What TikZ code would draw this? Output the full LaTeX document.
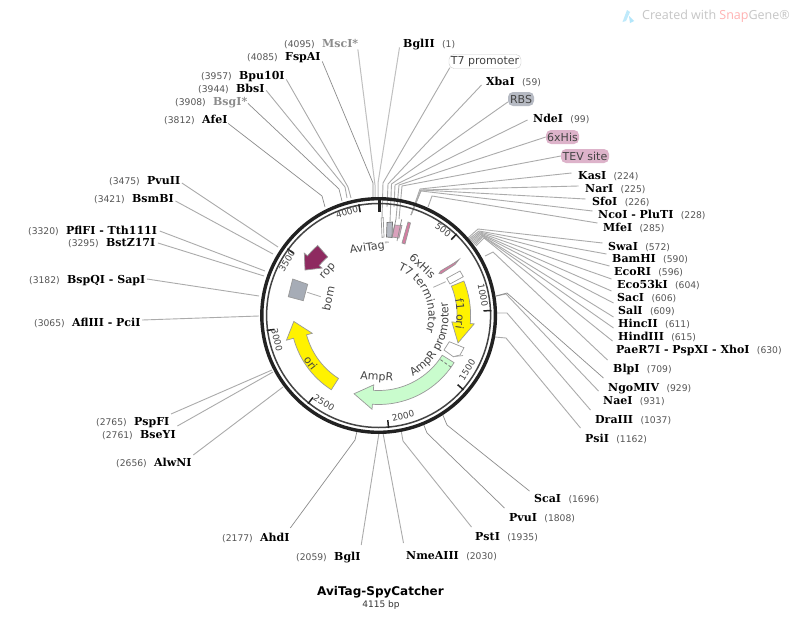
\documentclass[tikz,border=0pt]{standalone}
\usepackage{fontspec}
\setmainfont{DejaVu Sans}
\newfontfamily\enzf{DejaVu Serif}
\newfontfamily\markf{Open Sans}
\usetikzlibrary{decorations.text,calc}
\definecolor{leadc}{HTML}{ABABAB}
\definecolor{darkl}{HTML}{8C8C8C}
\definecolor{featc}{HTML}{444444}
\definecolor{numc}{HTML}{555555}
\definecolor{ringc}{HTML}{222222}
\definecolor{pinkf}{HTML}{DDB3CA}
\definecolor{greyf}{HTML}{B6BAC3}
\definecolor{bomf}{HTML}{A6ACB6}
\definecolor{ropf}{HTML}{8E2A60}
\definecolor{ampf}{HTML}{C9FCCD}
\def\CX{378.6}
\def\CY{315.5}
\newcommand\featf{\fontsize{11}{12}\selectfont\color{featc}}
\tikzset{
  enzname/.style={anchor=west,inner sep=1.5pt,text height=7.5pt,text depth=0pt,font=\fontsize{11}{12}\selectfont\enzf\bfseries,text=black},
  enzgrey/.style={enzname,text=gray!90},
  enznum/.style={inner sep=0pt,text height=7pt,text depth=0pt,font=\fontsize{9.2}{11}\selectfont,text=numc},
  lead/.style={draw=leadc,line width=0.9pt},
  leaddark/.style={draw=darkl,line width=0.7pt},
  leadpale/.style={draw=leadc!75,line width=1pt},
  featbox/.style={rounded corners=5pt,minimum height=14pt,inner sep=0pt,font=\fontsize{11}{12}\selectfont,text=featc},
  featlab/.style={font=\fontsize{11}{12}\selectfont,text=featc,inner sep=0pt},
  ticklab/.style={font=\fontsize{8.9}{10}\selectfont,text=featc,inner sep=0pt},
  shapefeat/.style={draw=gray!80,line width=0.7pt,line join=miter},
  ringtick/.style={draw=ringc,line width=1.5pt},
}
% enzyme with the number after the name
\newcommand\enzR[6][enzname]{%
  \node[#1] (#2) at ({#3-1.5},#4) {#5};
  \node[enznum,anchor=west] (#2-n) at ([xshift=5.5pt]#2.east) {(#6)};}
% enzyme with the number before the name
\newcommand\enzL[6][enzname]{%
  \node[#1] (#2) at ({#3-1.5},#4) {#5};
  \node[enznum,anchor=east] (#2-n) at ([xshift=-5.5pt]#2.west) {(#6)};}
% leader: node anchor + shift, elbow, end on the ring
\newcommand\ldr[9][lead]{%
  \coordinate (#2-e) at (#6,#7);
  \coordinate (#2-r) at (#8,#9);
  \draw[#1] ([shift={(#4,#5)}]#2.#3) -- (#2-e) -- (#2-r);}
% arc arrow: style,a1,a2,atip,r1,r2,rh1,rh2 ; rtip = next
\newcommand\featarrow[9]{%
  \draw[#1] plot[domain=#2:#3,samples=24] ({\CX+#6*sin(\x)},{\CY-#6*cos(\x)})
   -- ({\CX+#8*sin(#3)},{\CY-#8*cos(#3)})
   -- ({\CX+#9*sin(#4)},{\CY-#9*cos(#4)})
   -- ({\CX+#7*sin(#3)},{\CY-#7*cos(#3)})
   -- plot[domain=#3:#2,samples=24] ({\CX+#5*sin(\x)},{\CY-#5*cos(\x)}) -- cycle;}
% text along an arc
\newcommand\arctext[4]{%
  \path[decorate,decoration={text along path,text align=center,text={|\featf|#4}}]
    plot[domain=#1:#2,samples=60] ({\CX+#3*sin(\x)},{\CY-#3*cos(\x)});}
\newcommand\tick[1]{%
  \draw[ringtick] ({\CX+113*sin(#1)},{\CY-113*cos(#1)}) -- ({\CX+105*sin(#1)},{\CY-105*cos(#1)});}
\begin{document}
\begin{tikzpicture}[x=1pt,y=-1pt]
\useasboundingbox (0,0) rectangle (800,640);
\fill[white] (0,0) rectangle (800,640);

% watermark
\fill[cyan!25] (622.5,22)--(627,10)--(630,12)--(626,21)--cycle;
\fill[cyan!30] (629,16)--(634,21)--(630,23)--cycle;
\node[anchor=west,inner sep=0pt,font=\fontsize{12.5}{14}\selectfont\markf,text=gray!45] (wm) at (642,16) {Created with \textcolor{red!30}{Snap}Gene®};

% enzyme labels, right side
\enzR{bgl}{403}{44}{BglII}{1}
\enzR{xba}{486}{82}{XbaI}{59}
\enzR{nde}{533}{119}{NdeI}{99}
\enzR{kas}{578}{176}{KasI}{224}
\enzR{nar}{585}{189}{NarI}{225}
\enzR{sfo}{592}{202}{SfoI}{226}
\enzR{nco}{598}{215}{NcoI - PluTI}{228}
\enzR{mfe}{603}{228}{MfeI}{285}
\enzR{swa}{608}{247}{SwaI}{572}
\enzR{bam}{612}{259}{BamHI}{590}
\enzR{eco}{614}{272}{EcoRI}{596}
\enzR{ecok}{617}{285}{Eco53kI}{604}
\enzR{sac}{617}{298}{SacI}{606}
\enzR{sal}{618}{311}{SalI}{609}
\enzR{hinc}{618}{324}{HincII}{611}
\enzR{hind}{618}{337}{HindIII}{615}
\enzR{pae}{616}{350}{PaeR7I - PspXI - XhoI}{630}
\enzR{blp}{613}{369}{BlpI}{709}
\enzR{ngo}{608}{388}{NgoMIV}{929}
\enzR{nae}{603}{401}{NaeI}{931}
\enzR{dra}{595}{420}{DraIII}{1037}
\enzR{psi}{585}{439}{PsiI}{1162}
\enzR{sca}{534}{499}{ScaI}{1696}
\enzR{pvui}{509}{518}{PvuI}{1808}
\enzR{pst}{475}{537}{PstI}{1935}
\enzR{nme}{406}{556}{NmeAIII}{2030}
% enzyme labels, left side
\enzL[enzgrey]{msc}{322}{44}{MscI*}{4095}
\enzL{fsp}{285}{57}{FspAI}{4085}
\enzL{bpu}{239}{76}{Bpu10I}{3957}
\enzL{bbs}{236}{89}{BbsI}{3944}
\enzL[enzgrey]{bsg}{213}{102}{BsgI*}{3908}
\enzL{afe}{202}{120}{AfeI}{3812}
\enzL{pvuii}{147}{181}{PvuII}{3475}
\enzL{bsm}{132}{199}{BsmBI}{3421}
\enzL{pfl}{66}{231}{PflFI - Tth111I}{3320}
\enzL{bst}{106}{243}{BstZ17I}{3295}
\enzL{bsp}{67}{280}{BspQI - SapI}{3182}
\enzL{afl}{72}{323}{AflIII - PciI}{3065}
\enzL{psp}{134}{422}{PspFI}{2765}
\enzL{bse}{140}{435}{BseYI}{2761}
\enzL{alw}{154}{463}{AlwNI}{2656}
\enzL{ahd}{260}{538}{AhdI}{2177}
\enzL{bgli}{334}{557}{BglI}{2059}

% feature boxes
\node[featbox,draw=gray!40,fill=white,minimum width=72pt] (t7p) at (485,61.5) {T7 promoter};
\node[featbox,fill=greyf,minimum width=26pt] (rbs) at (521,99) {RBS};
\node[featbox,fill=pinkf,minimum width=33pt] (his) at (562.5,137) {6xHis};
\node[featbox,fill=pinkf,minimum width=48pt] (tev) at (585,156) {TEV site};

% leaders
\ldr[leadpale]{msc}{south east}{-2}{0}{375}{185}{375}{197}
\ldr[leadpale]{bgl}{south west}{-2}{-2}{378}{183}{378}{197}
\ldr[leaddark]{fsp}{south east}{0}{-1}{373}{183}{373}{197}
\ldr{bpu}{south east}{0}{-2}{348}{187}{351}{198}
\ldr{bbs}{south east}{0}{-4}{345}{187}{347}{198}
\ldr[leaddark]{bsg}{south east}{-1}{-4}{339}{189}{342}{201}
\ldr[leaddark]{afe}{south east}{-1}{-2}{322}{196}{325}{207}
\ldr{pvuii}{east}{0}{2}{278}{247}{278}{247}
\ldr{bsm}{east}{0}{2}{273}{254}{273}{254}
\ldr{pfl}{east}{1}{0}{265}{271}{265}{271}
\ldr{bst}{east}{1}{0}{264}{276}{264}{276}
\ldr{bsp}{east}{0}{-1}{259}{296}{259}{296}
\ldr{afl}{east}{0}{-3}{259}{316}{259}{316}
\ldr{psp}{east}{0}{-8}{272}{370}{272}{370}
\ldr{bse}{east}{0}{-9}{273}{372}{273}{372}
\ldr{alw}{east}{0}{-8}{283}{387}{283}{387}
\ldr[leaddark]{ahd}{east}{-1}{-10}{355}{440}{357}{431}
\ldr{bgli}{east}{-1}{-12}{379}{433}{379}{431}
\ldr{nme}{west}{-1}{-13}{383}{433}{383}{431}
\ldr{pst}{west}{-2}{-10}{403}{441}{401}{430}
\ldr[leaddark]{pvui}{west}{-3}{-10}{427}{433}{423}{423}
\ldr[leaddark]{sca}{west}{-3}{-8}{447}{425}{442}{413}
\ldr{psi}{west}{-3}{-11}{506}{338}{495}{337}
\ldr{dra}{west}{-3}{-10}{507}{313}{496}{313}
\ldr{nae}{west}{-3}{-10}{506}{294}{496}{296}
\ldr[leaddark]{ngo}{west}{-3}{-10}{507}{293}{496}{296}
\ldr{blp}{west}{-4}{-9}{493}{252}{485}{256}
\ldr{pae}{west}{-2}{-9}{484}{238}{476}{246}
\ldr{hind}{west}{-3}{-9}{483}{236.5}{475}{245}
\ldr{hinc}{west}{-3}{-7}{482.5}{236}{474}{244}
\ldr{sal}{west}{-3}{-8}{482}{235}{473}{243}
\ldr{sac}{west}{-4}{-7}{481}{234}{472}{242}
\ldr{ecok}{west}{-4}{-6}{480.5}{233}{471}{241}
\ldr{eco}{west}{-3}{-6}{480}{232}{470}{240}
\ldr{bam}{west}{-4}{-5}{479}{231}{469}{239}
\ldr{swa}{west}{-4}{-4}{478}{229}{468}{238}
\ldr{mfe}{west}{-4}{-5}{432}{196}{428}{207}
\ldr{nco}{west}{-4}{-4}{421}{191}{411}{215}
\ldr{sfo}{west}{-5}{-3}{421}{190}{411}{215}
\ldr{nar}{west}{-5}{-3}{421}{190}{411}{215}
\ldr{kas}{west}{-5}{-3}{420}{189}{411}{215}
\ldr{tev}{west}{0}{0}{402}{186}{399}{219}
\ldr{his}{west}{0}{0}{399}{185}{396}{219}
\ldr{nde}{west}{-4}{1}{395}{185}{394}{207}
\ldr{rbs}{west}{0}{3}{391.5}{184}{390}{222}
\ldr{xba}{west}{-3}{3}{388}{184}{387}{207}
\ldr{t7p}{south west}{1}{-1}{383}{183}{382}{218}

% plasmid ring
\draw[ringc,line width=3.4pt] (\CX,\CY) circle[radius=116.8pt];
\draw[ringc!85,line width=1.5pt] (\CX,\CY) circle[radius=112pt];
\draw[ringc,line width=3pt] (379,199) -- (379,212);
\tick{43.74}\tick{87.48}\tick{131.2}\tick{174.96}\tick{218.7}\tick{262.4}\tick{306.2}\tick{349.9}
\node[ticklab,rotate=-37] (t500) at (443,230) {500};
\node[ticklab,rotate=-79] (t1000) at (483,295) {1000};
\node[ticklab,rotate=58] (t1500) at (467,370) {1500};
\node[ticklab,rotate=14] (t2000) at (403,416) {2000};
\node[ticklab,rotate=-32] (t2500) at (324,403) {2500};
\node[ticklab,rotate=-76] (t3000) at (277,340) {3000};
\node[ticklab,rotate=59] (t3500) at (287,261) {3500};
\node[ticklab,rotate=17] (t4000) at (347,212) {4000};

% features on the map
\featarrow{shapefeat,fill=yellow}{68}{95}{109}{78.5}{92}{73.5}{96}{84}
\featarrow{shapefeat,fill=ampf}{122}{184}{197.4}{75}{89}{69.5}{94}{82}
\featarrow{shapefeat,fill=yellow}{212.5}{255}{266}{74.6}{88}{68.7}{95.4}{85}
\featarrow{shapefeat,fill=ropf}{319}{310}{301.7}{77.6}{92.8}{73.8}{97}{86.5}
\draw[densely dashed,draw=gray!90!black,line width=0.8pt] ({\CX+76*sin(125.5)},{\CY-76*cos(125.5)}) -- ({\CX+89*sin(125.5)},{\CY-89*cos(125.5)});
\draw[shapefeat,fill=bomf] (292.7,279)--(307.7,284.3)--(303.3,300.7)--(288.3,296.7)--cycle;
\draw[draw=leadc,line width=0.8pt] (307.3,292.3)--(320.7,296.7);
\draw[shapefeat,fill=white] (449.3,341.7)--(464,347.7)--(460,355)--(453.3,356.7)--(444,350)--cycle;
\draw[draw=leadc,line width=0.8pt] (453.3,356.7)--(463,355.5);
\draw[shapefeat,fill=white] (446.7,278.3)--(460,271)--(463.3,276.7)--(450,284)--cycle;
\draw[draw=leadc,line width=0.8pt] (445.7,281.7)--(433.3,287.3);
\draw[shapefeat,fill=pinkf!70!purple] (439,273.5)--(440.5,271)--(454,263)--(459,259.5)--(455,264.5)--(441,273.8)--cycle;
\draw[shapefeat,fill=white] (381.2,218)--(383.2,217.5)--(384,237)--(382,237.5)--cycle;
\draw[shapefeat,fill=greyf,draw=gray!90!black] (387,222.5)--(392.5,222)--(392,237.5)--(386.5,237)--cycle;
\draw[shapefeat,fill=pinkf!90!purple] (394.5,225)--(402,225.5)--(399,238)--(392,237)--cycle;
\draw[draw=darkl,line width=0.7pt] (396,219)--(392,238);
\draw[draw=darkl,line width=0.7pt] (401.7,219.3)--(397,241);
\draw[shapefeat,fill=pinkf!70!purple] (408,222)--(410.5,223)--(405,244)--(402,243)--cycle;

% feature labels
\arctext{68}{110}{78}{f1 ori}
\arctext{252}{218}{87}{ori}
\arctext{20}{112}{50}{T7 terminator}
\arctext{165}{65}{70}{AmpR promoter}
\node[featlab,rotate=8] (avi) at (370,248) {AviTag{\fontsize{5.5}{6}\selectfont\raisebox{2.5pt}{™}}};
\node[featlab,rotate=-43] (hisl) at (422.7,266) {6xHis};
\node[featlab,rotate=-4] (ampl) at (376.7,377.3) {AmpR};
\node[featlab,rotate=78] (boml) at (328.3,298.3) {bom};
\node[featlab,rotate=48] (ropl) at (328.3,271.7) {rop};

% title
\node[inner sep=0pt,font=\fontsize{12}{14}\selectfont\bfseries,text=black] (title) at (380.5,592) {AviTag-SpyCatcher};
\node[inner sep=0pt,font=\fontsize{9}{10}\selectfont,text=black!80] (size) at (381,605) {4115 bp};
\end{tikzpicture}
\end{document}
